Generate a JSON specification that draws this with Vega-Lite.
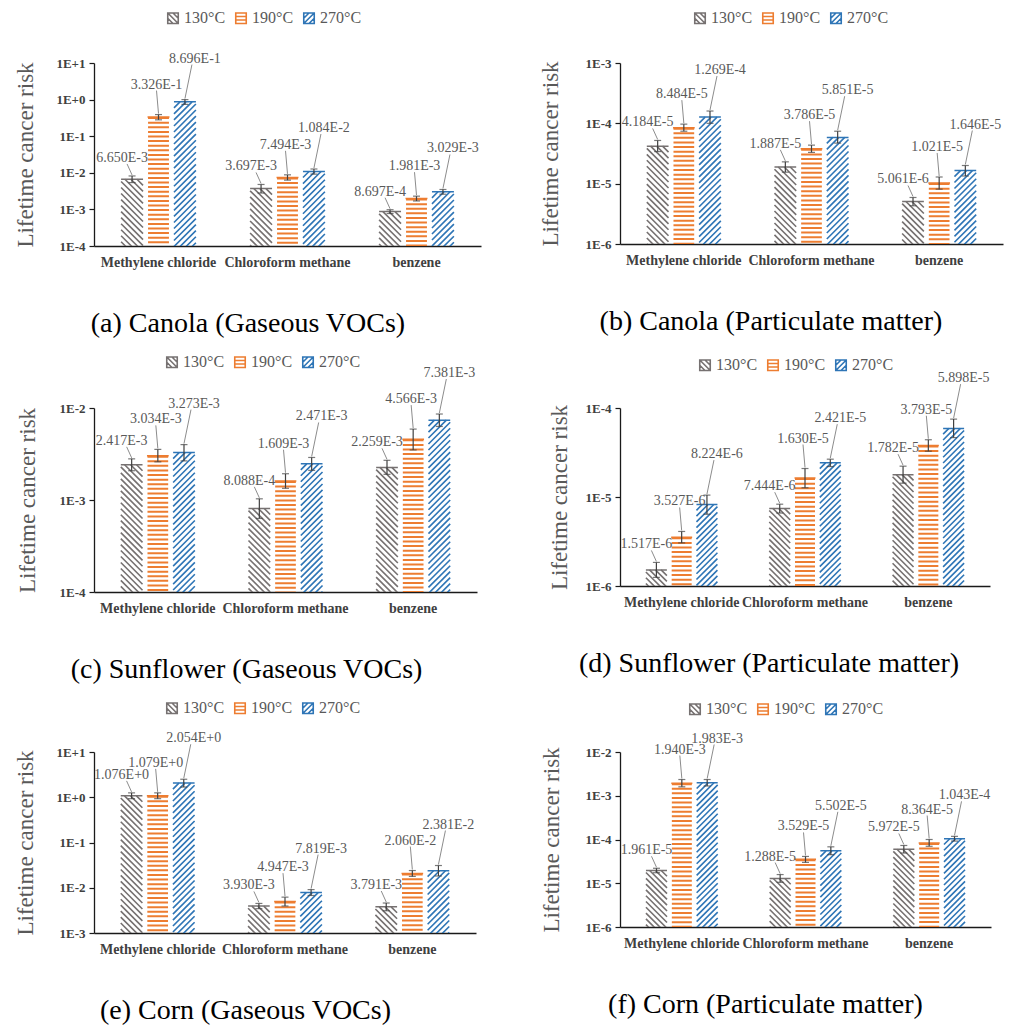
{
"$schema": "https://vega.github.io/schema/vega-lite/v6.json",
"background": "white",
"padding": {"left": 14, "top": 10, "right": 5, "bottom": 0},
"config": {
 "view": {"stroke": null},
 "axis": {"grid": false, "domainColor": "#1a1a1a", "domainWidth": 1.3, "tickColor": "#1a1a1a", "tickWidth": 1.2, "tickSize": 5, "labelFont": "Liberation Serif", "labelFontSize": 13, "labelFontWeight": "bold", "labelColor": "#404040", "labelPadding": 4, "titleFont": "Liberation Serif", "titleFontSize": 23, "titleFontWeight": "normal", "titleColor": "#595959"},
 "axisX": {"labelFontSize": 14},
 "legend": {"orient": "none", "direction": "horizontal", "symbolSize": 110, "symbolStrokeWidth": 1.6, "labelFont": "Liberation Serif", "labelFontSize": 16, "labelColor": "#595959", "labelOffset": 3, "columnPadding": 6},
 "title": {"orient": "bottom", "anchor": "middle", "frame": "bounds", "font": "Liberation Serif", "fontSize": 28, "fontWeight": "normal", "color": "#000000", "offset": 41}
},
"data": {"values": [
{"panel":"a","compound":"Methylene chloride","temp":"130°C","risk":6.65e-3,"lo":5.4e-3,"hi":8.2e-3},
{"panel":"a","compound":"Methylene chloride","temp":"190°C","risk":3.326e-1,"lo":0.28,"hi":0.39},
{"panel":"a","compound":"Methylene chloride","temp":"270°C","risk":8.696e-1,"lo":0.74,"hi":1.0},
{"panel":"a","compound":"Chloroform methane","temp":"130°C","risk":3.697e-3,"lo":2.8e-3,"hi":4.8e-3},
{"panel":"a","compound":"Chloroform methane","temp":"190°C","risk":7.494e-3,"lo":6.3e-3,"hi":8.8e-3},
{"panel":"a","compound":"Chloroform methane","temp":"270°C","risk":1.084e-2,"lo":9.2e-3,"hi":1.27e-2},
{"panel":"a","compound":"benzene","temp":"130°C","risk":8.697e-4,"lo":7.7e-4,"hi":9.8e-4},
{"panel":"a","compound":"benzene","temp":"190°C","risk":1.981e-3,"lo":1.7e-3,"hi":2.3e-3},
{"panel":"a","compound":"benzene","temp":"270°C","risk":3.029e-3,"lo":2.6e-3,"hi":3.5e-3},
{"panel":"b","compound":"Methylene chloride","temp":"130°C","risk":4.184e-5,"lo":3.4e-5,"hi":5.2e-5},
{"panel":"b","compound":"Methylene chloride","temp":"190°C","risk":8.484e-5,"lo":7.4e-5,"hi":9.7e-5},
{"panel":"b","compound":"Methylene chloride","temp":"270°C","risk":1.269e-4,"lo":1.0e-4,"hi":1.6e-4},
{"panel":"b","compound":"Chloroform methane","temp":"130°C","risk":1.887e-5,"lo":1.55e-5,"hi":2.3e-5},
{"panel":"b","compound":"Chloroform methane","temp":"190°C","risk":3.786e-5,"lo":3.3e-5,"hi":4.35e-5},
{"panel":"b","compound":"Chloroform methane","temp":"270°C","risk":5.851e-5,"lo":4.7e-5,"hi":7.4e-5},
{"panel":"b","compound":"benzene","temp":"130°C","risk":5.061e-6,"lo":4.3e-6,"hi":5.9e-6},
{"panel":"b","compound":"benzene","temp":"190°C","risk":1.021e-5,"lo":8.1e-6,"hi":1.29e-5},
{"panel":"b","compound":"benzene","temp":"270°C","risk":1.646e-5,"lo":1.34e-5,"hi":2.0e-5},
{"panel":"c","compound":"Methylene chloride","temp":"130°C","risk":2.417e-3,"lo":2.08e-3,"hi":2.8e-3},
{"panel":"c","compound":"Methylene chloride","temp":"190°C","risk":3.034e-3,"lo":2.6e-3,"hi":3.55e-3},
{"panel":"c","compound":"Methylene chloride","temp":"270°C","risk":3.273e-3,"lo":2.66e-3,"hi":4.0e-3},
{"panel":"c","compound":"Chloroform methane","temp":"130°C","risk":8.088e-4,"lo":6.3e-4,"hi":1.03e-3},
{"panel":"c","compound":"Chloroform methane","temp":"190°C","risk":1.609e-3,"lo":1.34e-3,"hi":1.93e-3},
{"panel":"c","compound":"Chloroform methane","temp":"270°C","risk":2.471e-3,"lo":2.1e-3,"hi":2.9e-3},
{"panel":"c","compound":"benzene","temp":"130°C","risk":2.259e-3,"lo":1.9e-3,"hi":2.7e-3},
{"panel":"c","compound":"benzene","temp":"190°C","risk":4.566e-3,"lo":3.5e-3,"hi":5.9e-3},
{"panel":"c","compound":"benzene","temp":"270°C","risk":7.381e-3,"lo":6.3e-3,"hi":8.6e-3},
{"panel":"d","compound":"Methylene chloride","temp":"130°C","risk":1.517e-6,"lo":1.25e-6,"hi":1.84e-6},
{"panel":"d","compound":"Methylene chloride","temp":"190°C","risk":3.527e-6,"lo":3.05e-6,"hi":4.1e-6},
{"panel":"d","compound":"Methylene chloride","temp":"270°C","risk":8.224e-6,"lo":6.4e-6,"hi":1.05e-5},
{"panel":"d","compound":"Chloroform methane","temp":"130°C","risk":7.444e-6,"lo":6.6e-6,"hi":8.3e-6},
{"panel":"d","compound":"Chloroform methane","temp":"190°C","risk":1.630e-5,"lo":1.27e-5,"hi":2.09e-5},
{"panel":"d","compound":"Chloroform methane","temp":"270°C","risk":2.421e-5,"lo":2.2e-5,"hi":2.66e-5},
{"panel":"d","compound":"benzene","temp":"130°C","risk":1.782e-5,"lo":1.43e-5,"hi":2.22e-5},
{"panel":"d","compound":"benzene","temp":"190°C","risk":3.793e-5,"lo":3.27e-5,"hi":4.4e-5},
{"panel":"d","compound":"benzene","temp":"270°C","risk":5.898e-5,"lo":4.65e-5,"hi":7.5e-5},
{"panel":"e","compound":"Methylene chloride","temp":"130°C","risk":1.076,"lo":0.93,"hi":1.25},
{"panel":"e","compound":"Methylene chloride","temp":"190°C","risk":1.079,"lo":0.93,"hi":1.25},
{"panel":"e","compound":"Methylene chloride","temp":"270°C","risk":2.054,"lo":1.68,"hi":2.5},
{"panel":"e","compound":"Chloroform methane","temp":"130°C","risk":3.930e-3,"lo":3.45e-3,"hi":4.5e-3},
{"panel":"e","compound":"Chloroform methane","temp":"190°C","risk":4.947e-3,"lo":3.95e-3,"hi":6.2e-3},
{"panel":"e","compound":"Chloroform methane","temp":"270°C","risk":7.819e-3,"lo":6.75e-3,"hi":9.1e-3},
{"panel":"e","compound":"benzene","temp":"130°C","risk":3.791e-3,"lo":3.1e-3,"hi":4.6e-3},
{"panel":"e","compound":"benzene","temp":"190°C","risk":2.060e-2,"lo":1.78e-2,"hi":2.4e-2},
{"panel":"e","compound":"benzene","temp":"270°C","risk":2.381e-2,"lo":1.82e-2,"hi":3.1e-2},
{"panel":"f","compound":"Methylene chloride","temp":"130°C","risk":1.961e-5,"lo":1.74e-5,"hi":2.2e-5},
{"panel":"f","compound":"Methylene chloride","temp":"190°C","risk":1.940e-3,"lo":1.6e-3,"hi":2.35e-3},
{"panel":"f","compound":"Methylene chloride","temp":"270°C","risk":1.983e-3,"lo":1.67e-3,"hi":2.35e-3},
{"panel":"f","compound":"Chloroform methane","temp":"130°C","risk":1.288e-5,"lo":1.05e-5,"hi":1.58e-5},
{"panel":"f","compound":"Chloroform methane","temp":"190°C","risk":3.529e-5,"lo":3.0e-5,"hi":4.1e-5},
{"panel":"f","compound":"Chloroform methane","temp":"270°C","risk":5.502e-5,"lo":4.5e-5,"hi":6.8e-5},
{"panel":"f","compound":"benzene","temp":"130°C","risk":5.972e-5,"lo":4.9e-5,"hi":7.3e-5},
{"panel":"f","compound":"benzene","temp":"190°C","risk":8.364e-5,"lo":7.0e-5,"hi":1.0e-4},
{"panel":"f","compound":"benzene","temp":"270°C","risk":1.043e-4,"lo":9.2e-5,"hi":1.18e-4}
]},
"columns": 2,
"spacing": {"row": 16, "column": 58},
"resolve": {"scale": {"stroke": "independent", "shape": "independent", "xOffset": "independent"}, "legend": {"stroke": "independent", "shape": "independent"}},
"concat": [
{
 "width": 387, "height": 183,
 "transform": [{"filter": "datum.panel === 'a'"}, {"calculate": "upper(format(datum.risk, '.3e'))", "as": "lbl"}],
 "title": {"text": "(a) Canola (Gaseous VOCs)"},
 "encoding": {
  "x": {"field": "compound", "type": "nominal", "sort": ["Methylene chloride", "Chloroform methane", "benzene"], "scale": {"paddingInner": 0.42, "paddingOuter": 0.21}, "axis": {"title": null, "labelAngle": 0, "ticks": false, "labelPadding": 9}},
  "xOffset": {"field": "temp", "type": "nominal", "sort": ["130°C", "190°C", "270°C"], "scale": {"paddingInner": 0.17, "paddingOuter": 0}},
  "y": {"field": "risk", "type": "quantitative", "title": "Lifetime cancer risk", "scale": {"type": "log", "domain": [1e-4, 10], "nice": false}, "axis": {"values": [1e-4, 1e-3, 1e-2, 1e-1, 1, 10], "titlePadding": 18, "labelExpr": "'1E' + (datum.value >= 1 ? '+' : '-') + abs(round(log(datum.value) / LN10))"}}
 },
 "layer": [
  {"mark": {"type": "bar", "fill": "white", "strokeWidth": 1.5}, "encoding": {"stroke": {"field": "temp", "type": "nominal", "scale": {"domain": ["130°C", "190°C", "270°C"], "range": ["#767171", "#ED7D31", "#2E75B6"]}, "legend": {"title": null, "legendX": 71, "legendY": -53}}}},
  {"transform": [{"filter": "datum.temp === '130°C'"}], "mark": {"type": "point", "shape": "M0.45,0l0.55,0.55M-0.1,0l1.1,1.1M-0.65,0l1.65,1.65M-1,0.2l2,2M-1,0.75l2,2M-1,1.3l2,2M-1,1.85l2,2M-1,2.4l2,2M-1,2.95l2,2M-1,3.5l2,2M-1,4.05l2,2M-1,4.6l2,2M-1,5.15l2,2M-1,5.7l2,2M-1,6.25l2,2M-1,6.8l2,2M-1,7.35l2,2M-1,7.9l2,2M-1,8.45l2,2M-1,9l2,2M-1,9.55l2,2M-1,10.1l2,2M-1,10.65l2,2M-1,11.2l2,2M-1,11.75l2,2M-1,12.3l2,2M-1,12.85l2,2M-1,13.4l2,2M-1,13.95l2,2M-1,14.5l2,2M-1,15.05l2,2M-1,15.6l2,2M-1,16.15l2,2M-1,16.7l2,2M-1,17.25l2,2", "size": 481, "filled": false, "opacity": 1, "stroke": "#767171", "strokeWidth": 1.6, "clip": true}},
  {"transform": [{"filter": "datum.temp === '270°C'"}], "mark": {"type": "point", "shape": "M-0.45,0l-0.55,0.55M0.1,0l-1.1,1.1M0.65,0l-1.65,1.65M1,0.2l-2,2M1,0.75l-2,2M1,1.3l-2,2M1,1.85l-2,2M1,2.4l-2,2M1,2.95l-2,2M1,3.5l-2,2M1,4.05l-2,2M1,4.6l-2,2M1,5.15l-2,2M1,5.7l-2,2M1,6.25l-2,2M1,6.8l-2,2M1,7.35l-2,2M1,7.9l-2,2M1,8.45l-2,2M1,9l-2,2M1,9.55l-2,2M1,10.1l-2,2M1,10.65l-2,2M1,11.2l-2,2M1,11.75l-2,2M1,12.3l-2,2M1,12.85l-2,2M1,13.4l-2,2M1,13.95l-2,2M1,14.5l-2,2M1,15.05l-2,2M1,15.6l-2,2M1,16.15l-2,2M1,16.7l-2,2M1,17.25l-2,2", "size": 481, "filled": false, "opacity": 1, "stroke": "#2E75B6", "strokeWidth": 1.6, "clip": true}},
  {"transform": [{"filter": "datum.temp === '190°C'"}], "mark": {"type": "rule", "strokeWidth": 20.9, "strokeDash": [2, 2.6], "color": "#ED7D31", "clip": true}, "encoding": {"y2": {"datum": 1e-4}}},
  {"mark": {"type": "rule", "color": "#404040", "strokeWidth": 1.2}, "encoding": {"y": {"field": "lo", "type": "quantitative", "title": "Lifetime cancer risk"}, "y2": {"field": "hi"}}},
  {"transform": [{"fold": ["lo", "hi"], "as": ["bnd", "bv"]}], "mark": {"type": "tick", "orient": "horizontal", "size": 7, "thickness": 1.2, "color": "#404040"}, "encoding": {"y": {"field": "bv", "type": "quantitative", "title": "Lifetime cancer risk"}}},
  {"transform": [{"filter": "datum.temp === '130°C'"}], "encoding": {"y": {"field": "hi", "type": "quantitative", "title": "Lifetime cancer risk"}}, "layer": [
   {"mark": {"type": "point", "shape": "M0,-1L-5,-12", "size": 4, "filled": false, "opacity": 1, "stroke": "#8c8c8c", "strokeWidth": 1}},
   {"mark": {"type": "text", "dx": -10, "dy": -18, "baseline": "middle", "font": "Liberation Serif", "fontSize": 14, "color": "#595959"}, "encoding": {"text": {"field": "lbl", "type": "nominal"}}}]},
  {"transform": [{"filter": "datum.temp === '190°C'"}], "encoding": {"y": {"field": "hi", "type": "quantitative", "title": "Lifetime cancer risk"}}, "layer": [
   {"mark": {"type": "point", "shape": "M0,-1L-2,-24", "size": 4, "filled": false, "opacity": 1, "stroke": "#8c8c8c", "strokeWidth": 1}},
   {"mark": {"type": "text", "dx": -2, "dy": -30, "baseline": "middle", "font": "Liberation Serif", "fontSize": 14, "color": "#595959"}, "encoding": {"text": {"field": "lbl", "type": "nominal"}}}]},
  {"transform": [{"filter": "datum.temp === '270°C'"}], "encoding": {"y": {"field": "hi", "type": "quantitative", "title": "Lifetime cancer risk"}}, "layer": [
   {"mark": {"type": "point", "shape": "M0,-1L7,-35", "size": 4, "filled": false, "opacity": 1, "stroke": "#8c8c8c", "strokeWidth": 1}},
   {"mark": {"type": "text", "dx": 10, "dy": -41, "baseline": "middle", "font": "Liberation Serif", "fontSize": 14, "color": "#595959"}, "encoding": {"text": {"field": "lbl", "type": "nominal"}}}]},
  {"transform": [{"filter": "false"}], "mark": {"type": "point", "filled": false, "opacity": 1}, "encoding": {
   "stroke": {"field": "temp", "type": "nominal", "scale": {"domain": ["130°C", "190°C", "270°C"], "range": ["#767171", "#ED7D31", "#2E75B6"]}, "legend": {"title": null, "legendX": 71, "legendY": -53}},
   "shape": {"field": "temp", "type": "nominal", "scale": {"domain": ["130°C", "190°C", "270°C"], "range": ["M-1,-1H1V1H-1ZM-1,-1L1,1M0,-1L1,0M-1,0L0,1", "M-1,-1H1V1H-1ZM-1,-0.33H1M-1,0.33H1", "M-1,-1H1V1H-1ZM-1,1L1,-1M-1,0L0,-1M0,1L1,0"]}, "legend": {"title": null, "legendX": 71, "legendY": -53}}}}
 ]
},
{
 "width": 383, "height": 181,
 "transform": [{"filter": "datum.panel === 'b'"}, {"calculate": "upper(format(datum.risk, '.3e'))", "as": "lbl"}],
 "title": {"text": "(b) Canola (Particulate matter)"},
 "encoding": {
  "x": {"field": "compound", "type": "nominal", "sort": ["Methylene chloride", "Chloroform methane", "benzene"], "scale": {"paddingInner": 0.42, "paddingOuter": 0.21}, "axis": {"title": null, "labelAngle": 0, "ticks": false, "labelPadding": 9}},
  "xOffset": {"field": "temp", "type": "nominal", "sort": ["130°C", "190°C", "270°C"], "scale": {"paddingInner": 0.17, "paddingOuter": 0}},
  "y": {"field": "risk", "type": "quantitative", "title": "Lifetime cancer risk", "scale": {"type": "log", "domain": [1e-6, 1e-3], "nice": false}, "axis": {"values": [1e-6, 1e-5, 1e-4, 1e-3], "titlePadding": 23, "labelExpr": "'1E' + (datum.value >= 1 ? '+' : '-') + abs(round(log(datum.value) / LN10))"}}
 },
 "layer": [
  {"mark": {"type": "bar", "fill": "white", "strokeWidth": 1.5}, "encoding": {"stroke": {"field": "temp", "type": "nominal", "scale": {"domain": ["130°C", "190°C", "270°C"], "range": ["#767171", "#ED7D31", "#2E75B6"]}, "legend": {"title": null, "legendX": 72, "legendY": -53}}}},
  {"transform": [{"filter": "datum.temp === '130°C'"}], "mark": {"type": "point", "shape": "M0.45,0l0.55,0.55M-0.1,0l1.1,1.1M-0.65,0l1.65,1.65M-1,0.2l2,2M-1,0.75l2,2M-1,1.3l2,2M-1,1.85l2,2M-1,2.4l2,2M-1,2.95l2,2M-1,3.5l2,2M-1,4.05l2,2M-1,4.6l2,2M-1,5.15l2,2M-1,5.7l2,2M-1,6.25l2,2M-1,6.8l2,2M-1,7.35l2,2M-1,7.9l2,2M-1,8.45l2,2M-1,9l2,2M-1,9.55l2,2M-1,10.1l2,2M-1,10.65l2,2M-1,11.2l2,2M-1,11.75l2,2M-1,12.3l2,2M-1,12.85l2,2M-1,13.4l2,2M-1,13.95l2,2M-1,14.5l2,2M-1,15.05l2,2M-1,15.6l2,2M-1,16.15l2,2M-1,16.7l2,2M-1,17.25l2,2", "size": 472, "filled": false, "opacity": 1, "stroke": "#767171", "strokeWidth": 1.6, "clip": true}},
  {"transform": [{"filter": "datum.temp === '270°C'"}], "mark": {"type": "point", "shape": "M-0.45,0l-0.55,0.55M0.1,0l-1.1,1.1M0.65,0l-1.65,1.65M1,0.2l-2,2M1,0.75l-2,2M1,1.3l-2,2M1,1.85l-2,2M1,2.4l-2,2M1,2.95l-2,2M1,3.5l-2,2M1,4.05l-2,2M1,4.6l-2,2M1,5.15l-2,2M1,5.7l-2,2M1,6.25l-2,2M1,6.8l-2,2M1,7.35l-2,2M1,7.9l-2,2M1,8.45l-2,2M1,9l-2,2M1,9.55l-2,2M1,10.1l-2,2M1,10.65l-2,2M1,11.2l-2,2M1,11.75l-2,2M1,12.3l-2,2M1,12.85l-2,2M1,13.4l-2,2M1,13.95l-2,2M1,14.5l-2,2M1,15.05l-2,2M1,15.6l-2,2M1,16.15l-2,2M1,16.7l-2,2M1,17.25l-2,2", "size": 472, "filled": false, "opacity": 1, "stroke": "#2E75B6", "strokeWidth": 1.6, "clip": true}},
  {"transform": [{"filter": "datum.temp === '190°C'"}], "mark": {"type": "rule", "strokeWidth": 20.7, "strokeDash": [2, 2.6], "color": "#ED7D31", "clip": true}, "encoding": {"y2": {"datum": 1e-6}}},
  {"mark": {"type": "rule", "color": "#404040", "strokeWidth": 1.2}, "encoding": {"y": {"field": "lo", "type": "quantitative", "title": "Lifetime cancer risk"}, "y2": {"field": "hi"}}},
  {"transform": [{"fold": ["lo", "hi"], "as": ["bnd", "bv"]}], "mark": {"type": "tick", "orient": "horizontal", "size": 7, "thickness": 1.2, "color": "#404040"}, "encoding": {"y": {"field": "bv", "type": "quantitative", "title": "Lifetime cancer risk"}}},
  {"transform": [{"filter": "datum.temp === '130°C'"}], "encoding": {"y": {"field": "hi", "type": "quantitative", "title": "Lifetime cancer risk"}}, "layer": [
   {"mark": {"type": "point", "shape": "M0,-1L-5,-12", "size": 4, "filled": false, "opacity": 1, "stroke": "#8c8c8c", "strokeWidth": 1}},
   {"mark": {"type": "text", "dx": -10, "dy": -18, "baseline": "middle", "font": "Liberation Serif", "fontSize": 14, "color": "#595959"}, "encoding": {"text": {"field": "lbl", "type": "nominal"}}}]},
  {"transform": [{"filter": "datum.temp === '190°C'"}], "encoding": {"y": {"field": "hi", "type": "quantitative", "title": "Lifetime cancer risk"}}, "layer": [
   {"mark": {"type": "point", "shape": "M0,-1L-2,-24", "size": 4, "filled": false, "opacity": 1, "stroke": "#8c8c8c", "strokeWidth": 1}},
   {"mark": {"type": "text", "dx": -2, "dy": -30, "baseline": "middle", "font": "Liberation Serif", "fontSize": 14, "color": "#595959"}, "encoding": {"text": {"field": "lbl", "type": "nominal"}}}]},
  {"transform": [{"filter": "datum.temp === '270°C'"}], "encoding": {"y": {"field": "hi", "type": "quantitative", "title": "Lifetime cancer risk"}}, "layer": [
   {"mark": {"type": "point", "shape": "M0,-1L7,-35", "size": 4, "filled": false, "opacity": 1, "stroke": "#8c8c8c", "strokeWidth": 1}},
   {"mark": {"type": "text", "dx": 10, "dy": -41, "baseline": "middle", "font": "Liberation Serif", "fontSize": 14, "color": "#595959"}, "encoding": {"text": {"field": "lbl", "type": "nominal"}}}]},
  {"transform": [{"filter": "false"}], "mark": {"type": "point", "filled": false, "opacity": 1}, "encoding": {
   "stroke": {"field": "temp", "type": "nominal", "scale": {"domain": ["130°C", "190°C", "270°C"], "range": ["#767171", "#ED7D31", "#2E75B6"]}, "legend": {"title": null, "legendX": 72, "legendY": -53}},
   "shape": {"field": "temp", "type": "nominal", "scale": {"domain": ["130°C", "190°C", "270°C"], "range": ["M-1,-1H1V1H-1ZM-1,-1L1,1M0,-1L1,0M-1,0L0,1", "M-1,-1H1V1H-1ZM-1,-0.33H1M-1,0.33H1", "M-1,-1H1V1H-1ZM-1,1L1,-1M-1,0L0,-1M0,1L1,0"]}, "legend": {"title": null, "legendX": 72, "legendY": -53}}}}
 ]
},
{
 "width": 383, "height": 184,
 "transform": [{"filter": "datum.panel === 'c'"}, {"calculate": "upper(format(datum.risk, '.3e'))", "as": "lbl"}],
 "title": {"text": "(c) Sunflower (Gaseous VOCs)"},
 "encoding": {
  "x": {"field": "compound", "type": "nominal", "sort": ["Methylene chloride", "Chloroform methane", "benzene"], "scale": {"paddingInner": 0.42, "paddingOuter": 0.21}, "axis": {"title": null, "labelAngle": 0, "ticks": false, "labelPadding": 9}},
  "xOffset": {"field": "temp", "type": "nominal", "sort": ["130°C", "190°C", "270°C"], "scale": {"paddingInner": 0.17, "paddingOuter": 0}},
  "y": {"field": "risk", "type": "quantitative", "title": "Lifetime cancer risk", "scale": {"type": "log", "domain": [1e-4, 1e-2], "nice": false}, "axis": {"values": [1e-4, 1e-3, 1e-2], "titlePadding": 20, "labelExpr": "'1E' + (datum.value >= 1 ? '+' : '-') + abs(round(log(datum.value) / LN10))"}}
 },
 "layer": [
  {"mark": {"type": "bar", "fill": "white", "strokeWidth": 1.5}, "encoding": {"stroke": {"field": "temp", "type": "nominal", "scale": {"domain": ["130°C", "190°C", "270°C"], "range": ["#767171", "#ED7D31", "#2E75B6"]}, "legend": {"title": null, "legendX": 70, "legendY": -54}}}},
  {"transform": [{"filter": "datum.temp === '130°C'"}], "mark": {"type": "point", "shape": "M0.45,0l0.55,0.55M-0.1,0l1.1,1.1M-0.65,0l1.65,1.65M-1,0.2l2,2M-1,0.75l2,2M-1,1.3l2,2M-1,1.85l2,2M-1,2.4l2,2M-1,2.95l2,2M-1,3.5l2,2M-1,4.05l2,2M-1,4.6l2,2M-1,5.15l2,2M-1,5.7l2,2M-1,6.25l2,2M-1,6.8l2,2M-1,7.35l2,2M-1,7.9l2,2M-1,8.45l2,2M-1,9l2,2M-1,9.55l2,2M-1,10.1l2,2M-1,10.65l2,2M-1,11.2l2,2M-1,11.75l2,2M-1,12.3l2,2M-1,12.85l2,2M-1,13.4l2,2M-1,13.95l2,2M-1,14.5l2,2M-1,15.05l2,2M-1,15.6l2,2M-1,16.15l2,2M-1,16.7l2,2M-1,17.25l2,2", "size": 472, "filled": false, "opacity": 1, "stroke": "#767171", "strokeWidth": 1.6, "clip": true}},
  {"transform": [{"filter": "datum.temp === '270°C'"}], "mark": {"type": "point", "shape": "M-0.45,0l-0.55,0.55M0.1,0l-1.1,1.1M0.65,0l-1.65,1.65M1,0.2l-2,2M1,0.75l-2,2M1,1.3l-2,2M1,1.85l-2,2M1,2.4l-2,2M1,2.95l-2,2M1,3.5l-2,2M1,4.05l-2,2M1,4.6l-2,2M1,5.15l-2,2M1,5.7l-2,2M1,6.25l-2,2M1,6.8l-2,2M1,7.35l-2,2M1,7.9l-2,2M1,8.45l-2,2M1,9l-2,2M1,9.55l-2,2M1,10.1l-2,2M1,10.65l-2,2M1,11.2l-2,2M1,11.75l-2,2M1,12.3l-2,2M1,12.85l-2,2M1,13.4l-2,2M1,13.95l-2,2M1,14.5l-2,2M1,15.05l-2,2M1,15.6l-2,2M1,16.15l-2,2M1,16.7l-2,2M1,17.25l-2,2", "size": 472, "filled": false, "opacity": 1, "stroke": "#2E75B6", "strokeWidth": 1.6, "clip": true}},
  {"transform": [{"filter": "datum.temp === '190°C'"}], "mark": {"type": "rule", "strokeWidth": 20.7, "strokeDash": [2, 2.6], "color": "#ED7D31", "clip": true}, "encoding": {"y2": {"datum": 1e-4}}},
  {"mark": {"type": "rule", "color": "#404040", "strokeWidth": 1.2}, "encoding": {"y": {"field": "lo", "type": "quantitative", "title": "Lifetime cancer risk"}, "y2": {"field": "hi"}}},
  {"transform": [{"fold": ["lo", "hi"], "as": ["bnd", "bv"]}], "mark": {"type": "tick", "orient": "horizontal", "size": 7, "thickness": 1.2, "color": "#404040"}, "encoding": {"y": {"field": "bv", "type": "quantitative", "title": "Lifetime cancer risk"}}},
  {"transform": [{"filter": "datum.temp === '130°C'"}], "encoding": {"y": {"field": "hi", "type": "quantitative", "title": "Lifetime cancer risk"}}, "layer": [
   {"mark": {"type": "point", "shape": "M0,-1L-5,-12", "size": 4, "filled": false, "opacity": 1, "stroke": "#8c8c8c", "strokeWidth": 1}},
   {"mark": {"type": "text", "dx": -10, "dy": -18, "baseline": "middle", "font": "Liberation Serif", "fontSize": 14, "color": "#595959"}, "encoding": {"text": {"field": "lbl", "type": "nominal"}}}]},
  {"transform": [{"filter": "datum.temp === '190°C'"}], "encoding": {"y": {"field": "hi", "type": "quantitative", "title": "Lifetime cancer risk"}}, "layer": [
   {"mark": {"type": "point", "shape": "M0,-1L-2,-24", "size": 4, "filled": false, "opacity": 1, "stroke": "#8c8c8c", "strokeWidth": 1}},
   {"mark": {"type": "text", "dx": -2, "dy": -30, "baseline": "middle", "font": "Liberation Serif", "fontSize": 14, "color": "#595959"}, "encoding": {"text": {"field": "lbl", "type": "nominal"}}}]},
  {"transform": [{"filter": "datum.temp === '270°C'"}], "encoding": {"y": {"field": "hi", "type": "quantitative", "title": "Lifetime cancer risk"}}, "layer": [
   {"mark": {"type": "point", "shape": "M0,-1L7,-35", "size": 4, "filled": false, "opacity": 1, "stroke": "#8c8c8c", "strokeWidth": 1}},
   {"mark": {"type": "text", "dx": 10, "dy": -41, "baseline": "middle", "font": "Liberation Serif", "fontSize": 14, "color": "#595959"}, "encoding": {"text": {"field": "lbl", "type": "nominal"}}}]},
  {"transform": [{"filter": "false"}], "mark": {"type": "point", "filled": false, "opacity": 1}, "encoding": {
   "stroke": {"field": "temp", "type": "nominal", "scale": {"domain": ["130°C", "190°C", "270°C"], "range": ["#767171", "#ED7D31", "#2E75B6"]}, "legend": {"title": null, "legendX": 70, "legendY": -54}},
   "shape": {"field": "temp", "type": "nominal", "scale": {"domain": ["130°C", "190°C", "270°C"], "range": ["M-1,-1H1V1H-1ZM-1,-1L1,1M0,-1L1,0M-1,0L0,1", "M-1,-1H1V1H-1ZM-1,-0.33H1M-1,0.33H1", "M-1,-1H1V1H-1ZM-1,1L1,-1M-1,0L0,-1M0,1L1,0"]}, "legend": {"title": null, "legendX": 70, "legendY": -54}}}}
 ]
},
{
 "width": 370, "height": 178,
 "transform": [{"filter": "datum.panel === 'd'"}, {"calculate": "upper(format(datum.risk, '.3e'))", "as": "lbl"}],
 "title": {"text": "(d) Sunflower (Particulate matter)"},
 "encoding": {
  "x": {"field": "compound", "type": "nominal", "sort": ["Methylene chloride", "Chloroform methane", "benzene"], "scale": {"paddingInner": 0.42, "paddingOuter": 0.21}, "axis": {"title": null, "labelAngle": 0, "ticks": false, "labelPadding": 9}},
  "xOffset": {"field": "temp", "type": "nominal", "sort": ["130°C", "190°C", "270°C"], "scale": {"paddingInner": 0.17, "paddingOuter": 0}},
  "y": {"field": "risk", "type": "quantitative", "title": "Lifetime cancer risk", "scale": {"type": "log", "domain": [1e-6, 1e-4], "nice": false}, "axis": {"values": [1e-6, 1e-5, 1e-4], "titlePadding": 14, "labelExpr": "'1E' + (datum.value >= 1 ? '+' : '-') + abs(round(log(datum.value) / LN10))"}}
 },
 "layer": [
  {"mark": {"type": "bar", "fill": "white", "strokeWidth": 1.5}, "encoding": {"stroke": {"field": "temp", "type": "nominal", "scale": {"domain": ["130°C", "190°C", "270°C"], "range": ["#767171", "#ED7D31", "#2E75B6"]}, "legend": {"title": null, "legendX": 77, "legendY": -51}}}},
  {"transform": [{"filter": "datum.temp === '130°C'"}], "mark": {"type": "point", "shape": "M0.45,0l0.55,0.55M-0.1,0l1.1,1.1M-0.65,0l1.65,1.65M-1,0.2l2,2M-1,0.75l2,2M-1,1.3l2,2M-1,1.85l2,2M-1,2.4l2,2M-1,2.95l2,2M-1,3.5l2,2M-1,4.05l2,2M-1,4.6l2,2M-1,5.15l2,2M-1,5.7l2,2M-1,6.25l2,2M-1,6.8l2,2M-1,7.35l2,2M-1,7.9l2,2M-1,8.45l2,2M-1,9l2,2M-1,9.55l2,2M-1,10.1l2,2M-1,10.65l2,2M-1,11.2l2,2M-1,11.75l2,2M-1,12.3l2,2M-1,12.85l2,2M-1,13.4l2,2M-1,13.95l2,2M-1,14.5l2,2M-1,15.05l2,2M-1,15.6l2,2M-1,16.15l2,2M-1,16.7l2,2M-1,17.25l2,2", "size": 440, "filled": false, "opacity": 1, "stroke": "#767171", "strokeWidth": 1.6, "clip": true}},
  {"transform": [{"filter": "datum.temp === '270°C'"}], "mark": {"type": "point", "shape": "M-0.45,0l-0.55,0.55M0.1,0l-1.1,1.1M0.65,0l-1.65,1.65M1,0.2l-2,2M1,0.75l-2,2M1,1.3l-2,2M1,1.85l-2,2M1,2.4l-2,2M1,2.95l-2,2M1,3.5l-2,2M1,4.05l-2,2M1,4.6l-2,2M1,5.15l-2,2M1,5.7l-2,2M1,6.25l-2,2M1,6.8l-2,2M1,7.35l-2,2M1,7.9l-2,2M1,8.45l-2,2M1,9l-2,2M1,9.55l-2,2M1,10.1l-2,2M1,10.65l-2,2M1,11.2l-2,2M1,11.75l-2,2M1,12.3l-2,2M1,12.85l-2,2M1,13.4l-2,2M1,13.95l-2,2M1,14.5l-2,2M1,15.05l-2,2M1,15.6l-2,2M1,16.15l-2,2M1,16.7l-2,2M1,17.25l-2,2", "size": 440, "filled": false, "opacity": 1, "stroke": "#2E75B6", "strokeWidth": 1.6, "clip": true}},
  {"transform": [{"filter": "datum.temp === '190°C'"}], "mark": {"type": "rule", "strokeWidth": 20, "strokeDash": [2, 2.6], "color": "#ED7D31", "clip": true}, "encoding": {"y2": {"datum": 1e-6}}},
  {"mark": {"type": "rule", "color": "#404040", "strokeWidth": 1.2}, "encoding": {"y": {"field": "lo", "type": "quantitative", "title": "Lifetime cancer risk"}, "y2": {"field": "hi"}}},
  {"transform": [{"fold": ["lo", "hi"], "as": ["bnd", "bv"]}], "mark": {"type": "tick", "orient": "horizontal", "size": 7, "thickness": 1.2, "color": "#404040"}, "encoding": {"y": {"field": "bv", "type": "quantitative", "title": "Lifetime cancer risk"}}},
  {"transform": [{"filter": "datum.temp === '130°C'"}], "encoding": {"y": {"field": "hi", "type": "quantitative", "title": "Lifetime cancer risk"}}, "layer": [
   {"mark": {"type": "point", "shape": "M0,-1L-5,-12", "size": 4, "filled": false, "opacity": 1, "stroke": "#8c8c8c", "strokeWidth": 1}},
   {"mark": {"type": "text", "dx": -10, "dy": -18, "baseline": "middle", "font": "Liberation Serif", "fontSize": 14, "color": "#595959"}, "encoding": {"text": {"field": "lbl", "type": "nominal"}}}]},
  {"transform": [{"filter": "datum.temp === '190°C'"}], "encoding": {"y": {"field": "hi", "type": "quantitative", "title": "Lifetime cancer risk"}}, "layer": [
   {"mark": {"type": "point", "shape": "M0,-1L-2,-24", "size": 4, "filled": false, "opacity": 1, "stroke": "#8c8c8c", "strokeWidth": 1}},
   {"mark": {"type": "text", "dx": -2, "dy": -30, "baseline": "middle", "font": "Liberation Serif", "fontSize": 14, "color": "#595959"}, "encoding": {"text": {"field": "lbl", "type": "nominal"}}}]},
  {"transform": [{"filter": "datum.temp === '270°C'"}], "encoding": {"y": {"field": "hi", "type": "quantitative", "title": "Lifetime cancer risk"}}, "layer": [
   {"mark": {"type": "point", "shape": "M0,-1L7,-35", "size": 4, "filled": false, "opacity": 1, "stroke": "#8c8c8c", "strokeWidth": 1}},
   {"mark": {"type": "text", "dx": 10, "dy": -41, "baseline": "middle", "font": "Liberation Serif", "fontSize": 14, "color": "#595959"}, "encoding": {"text": {"field": "lbl", "type": "nominal"}}}]},
  {"transform": [{"filter": "false"}], "mark": {"type": "point", "filled": false, "opacity": 1}, "encoding": {
   "stroke": {"field": "temp", "type": "nominal", "scale": {"domain": ["130°C", "190°C", "270°C"], "range": ["#767171", "#ED7D31", "#2E75B6"]}, "legend": {"title": null, "legendX": 77, "legendY": -51}},
   "shape": {"field": "temp", "type": "nominal", "scale": {"domain": ["130°C", "190°C", "270°C"], "range": ["M-1,-1H1V1H-1ZM-1,-1L1,1M0,-1L1,0M-1,0L0,1", "M-1,-1H1V1H-1ZM-1,-0.33H1M-1,0.33H1", "M-1,-1H1V1H-1ZM-1,1L1,-1M-1,0L0,-1M0,1L1,0"]}, "legend": {"title": null, "legendX": 77, "legendY": -51}}}}
 ]
},
{
 "width": 382, "height": 181,
 "transform": [{"filter": "datum.panel === 'e'"}, {"calculate": "upper(format(datum.risk, '.3e'))", "as": "lbl"}],
 "title": {"text": "(e) Corn (Gaseous VOCs)"},
 "encoding": {
  "x": {"field": "compound", "type": "nominal", "sort": ["Methylene chloride", "Chloroform methane", "benzene"], "scale": {"paddingInner": 0.42, "paddingOuter": 0.21}, "axis": {"title": null, "labelAngle": 0, "ticks": false, "labelPadding": 9}},
  "xOffset": {"field": "temp", "type": "nominal", "sort": ["130°C", "190°C", "270°C"], "scale": {"paddingInner": 0.17, "paddingOuter": 0}},
  "y": {"field": "risk", "type": "quantitative", "title": "Lifetime cancer risk", "scale": {"type": "log", "domain": [1e-3, 10], "nice": false}, "axis": {"values": [1e-3, 1e-2, 1e-1, 1, 10], "titlePadding": 18, "labelExpr": "'1E' + (datum.value >= 1 ? '+' : '-') + abs(round(log(datum.value) / LN10))"}}
 },
 "layer": [
  {"mark": {"type": "bar", "fill": "white", "strokeWidth": 1.5}, "encoding": {"stroke": {"field": "temp", "type": "nominal", "scale": {"domain": ["130°C", "190°C", "270°C"], "range": ["#767171", "#ED7D31", "#2E75B6"]}, "legend": {"title": null, "legendX": 70, "legendY": -52}}}},
  {"transform": [{"filter": "datum.temp === '130°C'"}], "mark": {"type": "point", "shape": "M0.45,0l0.55,0.55M-0.1,0l1.1,1.1M-0.65,0l1.65,1.65M-1,0.2l2,2M-1,0.75l2,2M-1,1.3l2,2M-1,1.85l2,2M-1,2.4l2,2M-1,2.95l2,2M-1,3.5l2,2M-1,4.05l2,2M-1,4.6l2,2M-1,5.15l2,2M-1,5.7l2,2M-1,6.25l2,2M-1,6.8l2,2M-1,7.35l2,2M-1,7.9l2,2M-1,8.45l2,2M-1,9l2,2M-1,9.55l2,2M-1,10.1l2,2M-1,10.65l2,2M-1,11.2l2,2M-1,11.75l2,2M-1,12.3l2,2M-1,12.85l2,2M-1,13.4l2,2M-1,13.95l2,2M-1,14.5l2,2M-1,15.05l2,2M-1,15.6l2,2M-1,16.15l2,2M-1,16.7l2,2M-1,17.25l2,2", "size": 469, "filled": false, "opacity": 1, "stroke": "#767171", "strokeWidth": 1.6, "clip": true}},
  {"transform": [{"filter": "datum.temp === '270°C'"}], "mark": {"type": "point", "shape": "M-0.45,0l-0.55,0.55M0.1,0l-1.1,1.1M0.65,0l-1.65,1.65M1,0.2l-2,2M1,0.75l-2,2M1,1.3l-2,2M1,1.85l-2,2M1,2.4l-2,2M1,2.95l-2,2M1,3.5l-2,2M1,4.05l-2,2M1,4.6l-2,2M1,5.15l-2,2M1,5.7l-2,2M1,6.25l-2,2M1,6.8l-2,2M1,7.35l-2,2M1,7.9l-2,2M1,8.45l-2,2M1,9l-2,2M1,9.55l-2,2M1,10.1l-2,2M1,10.65l-2,2M1,11.2l-2,2M1,11.75l-2,2M1,12.3l-2,2M1,12.85l-2,2M1,13.4l-2,2M1,13.95l-2,2M1,14.5l-2,2M1,15.05l-2,2M1,15.6l-2,2M1,16.15l-2,2M1,16.7l-2,2M1,17.25l-2,2", "size": 469, "filled": false, "opacity": 1, "stroke": "#2E75B6", "strokeWidth": 1.6, "clip": true}},
  {"transform": [{"filter": "datum.temp === '190°C'"}], "mark": {"type": "rule", "strokeWidth": 20.7, "strokeDash": [2, 2.6], "color": "#ED7D31", "clip": true}, "encoding": {"y2": {"datum": 1e-3}}},
  {"mark": {"type": "rule", "color": "#404040", "strokeWidth": 1.2}, "encoding": {"y": {"field": "lo", "type": "quantitative", "title": "Lifetime cancer risk"}, "y2": {"field": "hi"}}},
  {"transform": [{"fold": ["lo", "hi"], "as": ["bnd", "bv"]}], "mark": {"type": "tick", "orient": "horizontal", "size": 7, "thickness": 1.2, "color": "#404040"}, "encoding": {"y": {"field": "bv", "type": "quantitative", "title": "Lifetime cancer risk"}}},
  {"transform": [{"filter": "datum.temp === '130°C'"}], "encoding": {"y": {"field": "hi", "type": "quantitative", "title": "Lifetime cancer risk"}}, "layer": [
   {"mark": {"type": "point", "shape": "M0,-1L-5,-12", "size": 4, "filled": false, "opacity": 1, "stroke": "#8c8c8c", "strokeWidth": 1}},
   {"mark": {"type": "text", "dx": -10, "dy": -18, "baseline": "middle", "font": "Liberation Serif", "fontSize": 14, "color": "#595959"}, "encoding": {"text": {"field": "lbl", "type": "nominal"}}}]},
  {"transform": [{"filter": "datum.temp === '190°C'"}], "encoding": {"y": {"field": "hi", "type": "quantitative", "title": "Lifetime cancer risk"}}, "layer": [
   {"mark": {"type": "point", "shape": "M0,-1L-2,-24", "size": 4, "filled": false, "opacity": 1, "stroke": "#8c8c8c", "strokeWidth": 1}},
   {"mark": {"type": "text", "dx": -2, "dy": -30, "baseline": "middle", "font": "Liberation Serif", "fontSize": 14, "color": "#595959"}, "encoding": {"text": {"field": "lbl", "type": "nominal"}}}]},
  {"transform": [{"filter": "datum.temp === '270°C'"}], "encoding": {"y": {"field": "hi", "type": "quantitative", "title": "Lifetime cancer risk"}}, "layer": [
   {"mark": {"type": "point", "shape": "M0,-1L7,-35", "size": 4, "filled": false, "opacity": 1, "stroke": "#8c8c8c", "strokeWidth": 1}},
   {"mark": {"type": "text", "dx": 10, "dy": -41, "baseline": "middle", "font": "Liberation Serif", "fontSize": 14, "color": "#595959"}, "encoding": {"text": {"field": "lbl", "type": "nominal"}}}]},
  {"transform": [{"filter": "false"}], "mark": {"type": "point", "filled": false, "opacity": 1}, "encoding": {
   "stroke": {"field": "temp", "type": "nominal", "scale": {"domain": ["130°C", "190°C", "270°C"], "range": ["#767171", "#ED7D31", "#2E75B6"]}, "legend": {"title": null, "legendX": 70, "legendY": -52}},
   "shape": {"field": "temp", "type": "nominal", "scale": {"domain": ["130°C", "190°C", "270°C"], "range": ["M-1,-1H1V1H-1ZM-1,-1L1,1M0,-1L1,0M-1,0L0,1", "M-1,-1H1V1H-1ZM-1,-0.33H1M-1,0.33H1", "M-1,-1H1V1H-1ZM-1,1L1,-1M-1,0L0,-1M0,1L1,0"]}, "legend": {"title": null, "legendX": 70, "legendY": -52}}}}
 ]
},
{
 "width": 371, "height": 175,
 "transform": [{"filter": "datum.panel === 'f'"}, {"calculate": "upper(format(datum.risk, '.3e'))", "as": "lbl"}],
 "title": {"text": "(f) Corn (Particulate matter)"},
 "encoding": {
  "x": {"field": "compound", "type": "nominal", "sort": ["Methylene chloride", "Chloroform methane", "benzene"], "scale": {"paddingInner": 0.42, "paddingOuter": 0.21}, "axis": {"title": null, "labelAngle": 0, "ticks": false, "labelPadding": 9}},
  "xOffset": {"field": "temp", "type": "nominal", "sort": ["130°C", "190°C", "270°C"], "scale": {"paddingInner": 0.17, "paddingOuter": 0}},
  "y": {"field": "risk", "type": "quantitative", "title": "Lifetime cancer risk", "scale": {"type": "log", "domain": [1e-6, 1e-2], "nice": false}, "axis": {"values": [1e-6, 1e-5, 1e-4, 1e-3, 1e-2], "titlePadding": 22, "labelExpr": "'1E' + (datum.value >= 1 ? '+' : '-') + abs(round(log(datum.value) / LN10))"}}
 },
 "layer": [
  {"mark": {"type": "bar", "fill": "white", "strokeWidth": 1.5}, "encoding": {"stroke": {"field": "temp", "type": "nominal", "scale": {"domain": ["130°C", "190°C", "270°C"], "range": ["#767171", "#ED7D31", "#2E75B6"]}, "legend": {"title": null, "legendX": 67, "legendY": -51}}}},
  {"transform": [{"filter": "datum.temp === '130°C'"}], "mark": {"type": "point", "shape": "M0.45,0l0.55,0.55M-0.1,0l1.1,1.1M-0.65,0l1.65,1.65M-1,0.2l2,2M-1,0.75l2,2M-1,1.3l2,2M-1,1.85l2,2M-1,2.4l2,2M-1,2.95l2,2M-1,3.5l2,2M-1,4.05l2,2M-1,4.6l2,2M-1,5.15l2,2M-1,5.7l2,2M-1,6.25l2,2M-1,6.8l2,2M-1,7.35l2,2M-1,7.9l2,2M-1,8.45l2,2M-1,9l2,2M-1,9.55l2,2M-1,10.1l2,2M-1,10.65l2,2M-1,11.2l2,2M-1,11.75l2,2M-1,12.3l2,2M-1,12.85l2,2M-1,13.4l2,2M-1,13.95l2,2M-1,14.5l2,2M-1,15.05l2,2M-1,15.6l2,2M-1,16.15l2,2M-1,16.7l2,2M-1,17.25l2,2", "size": 443, "filled": false, "opacity": 1, "stroke": "#767171", "strokeWidth": 1.6, "clip": true}},
  {"transform": [{"filter": "datum.temp === '270°C'"}], "mark": {"type": "point", "shape": "M-0.45,0l-0.55,0.55M0.1,0l-1.1,1.1M0.65,0l-1.65,1.65M1,0.2l-2,2M1,0.75l-2,2M1,1.3l-2,2M1,1.85l-2,2M1,2.4l-2,2M1,2.95l-2,2M1,3.5l-2,2M1,4.05l-2,2M1,4.6l-2,2M1,5.15l-2,2M1,5.7l-2,2M1,6.25l-2,2M1,6.8l-2,2M1,7.35l-2,2M1,7.9l-2,2M1,8.45l-2,2M1,9l-2,2M1,9.55l-2,2M1,10.1l-2,2M1,10.65l-2,2M1,11.2l-2,2M1,11.75l-2,2M1,12.3l-2,2M1,12.85l-2,2M1,13.4l-2,2M1,13.95l-2,2M1,14.5l-2,2M1,15.05l-2,2M1,15.6l-2,2M1,16.15l-2,2M1,16.7l-2,2M1,17.25l-2,2", "size": 443, "filled": false, "opacity": 1, "stroke": "#2E75B6", "strokeWidth": 1.6, "clip": true}},
  {"transform": [{"filter": "datum.temp === '190°C'"}], "mark": {"type": "rule", "strokeWidth": 20, "strokeDash": [2, 2.6], "color": "#ED7D31", "clip": true}, "encoding": {"y2": {"datum": 1e-6}}},
  {"mark": {"type": "rule", "color": "#404040", "strokeWidth": 1.2}, "encoding": {"y": {"field": "lo", "type": "quantitative", "title": "Lifetime cancer risk"}, "y2": {"field": "hi"}}},
  {"transform": [{"fold": ["lo", "hi"], "as": ["bnd", "bv"]}], "mark": {"type": "tick", "orient": "horizontal", "size": 7, "thickness": 1.2, "color": "#404040"}, "encoding": {"y": {"field": "bv", "type": "quantitative", "title": "Lifetime cancer risk"}}},
  {"transform": [{"filter": "datum.temp === '130°C'"}], "encoding": {"y": {"field": "hi", "type": "quantitative", "title": "Lifetime cancer risk"}}, "layer": [
   {"mark": {"type": "point", "shape": "M0,-1L-5,-12", "size": 4, "filled": false, "opacity": 1, "stroke": "#8c8c8c", "strokeWidth": 1}},
   {"mark": {"type": "text", "dx": -10, "dy": -18, "baseline": "middle", "font": "Liberation Serif", "fontSize": 14, "color": "#595959"}, "encoding": {"text": {"field": "lbl", "type": "nominal"}}}]},
  {"transform": [{"filter": "datum.temp === '190°C'"}], "encoding": {"y": {"field": "hi", "type": "quantitative", "title": "Lifetime cancer risk"}}, "layer": [
   {"mark": {"type": "point", "shape": "M0,-1L-2,-24", "size": 4, "filled": false, "opacity": 1, "stroke": "#8c8c8c", "strokeWidth": 1}},
   {"mark": {"type": "text", "dx": -2, "dy": -30, "baseline": "middle", "font": "Liberation Serif", "fontSize": 14, "color": "#595959"}, "encoding": {"text": {"field": "lbl", "type": "nominal"}}}]},
  {"transform": [{"filter": "datum.temp === '270°C'"}], "encoding": {"y": {"field": "hi", "type": "quantitative", "title": "Lifetime cancer risk"}}, "layer": [
   {"mark": {"type": "point", "shape": "M0,-1L7,-35", "size": 4, "filled": false, "opacity": 1, "stroke": "#8c8c8c", "strokeWidth": 1}},
   {"mark": {"type": "text", "dx": 10, "dy": -41, "baseline": "middle", "font": "Liberation Serif", "fontSize": 14, "color": "#595959"}, "encoding": {"text": {"field": "lbl", "type": "nominal"}}}]},
  {"transform": [{"filter": "false"}], "mark": {"type": "point", "filled": false, "opacity": 1}, "encoding": {
   "stroke": {"field": "temp", "type": "nominal", "scale": {"domain": ["130°C", "190°C", "270°C"], "range": ["#767171", "#ED7D31", "#2E75B6"]}, "legend": {"title": null, "legendX": 67, "legendY": -51}},
   "shape": {"field": "temp", "type": "nominal", "scale": {"domain": ["130°C", "190°C", "270°C"], "range": ["M-1,-1H1V1H-1ZM-1,-1L1,1M0,-1L1,0M-1,0L0,1", "M-1,-1H1V1H-1ZM-1,-0.33H1M-1,0.33H1", "M-1,-1H1V1H-1ZM-1,1L1,-1M-1,0L0,-1M0,1L1,0"]}, "legend": {"title": null, "legendX": 67, "legendY": -51}}}}
 ]
}
]
}
